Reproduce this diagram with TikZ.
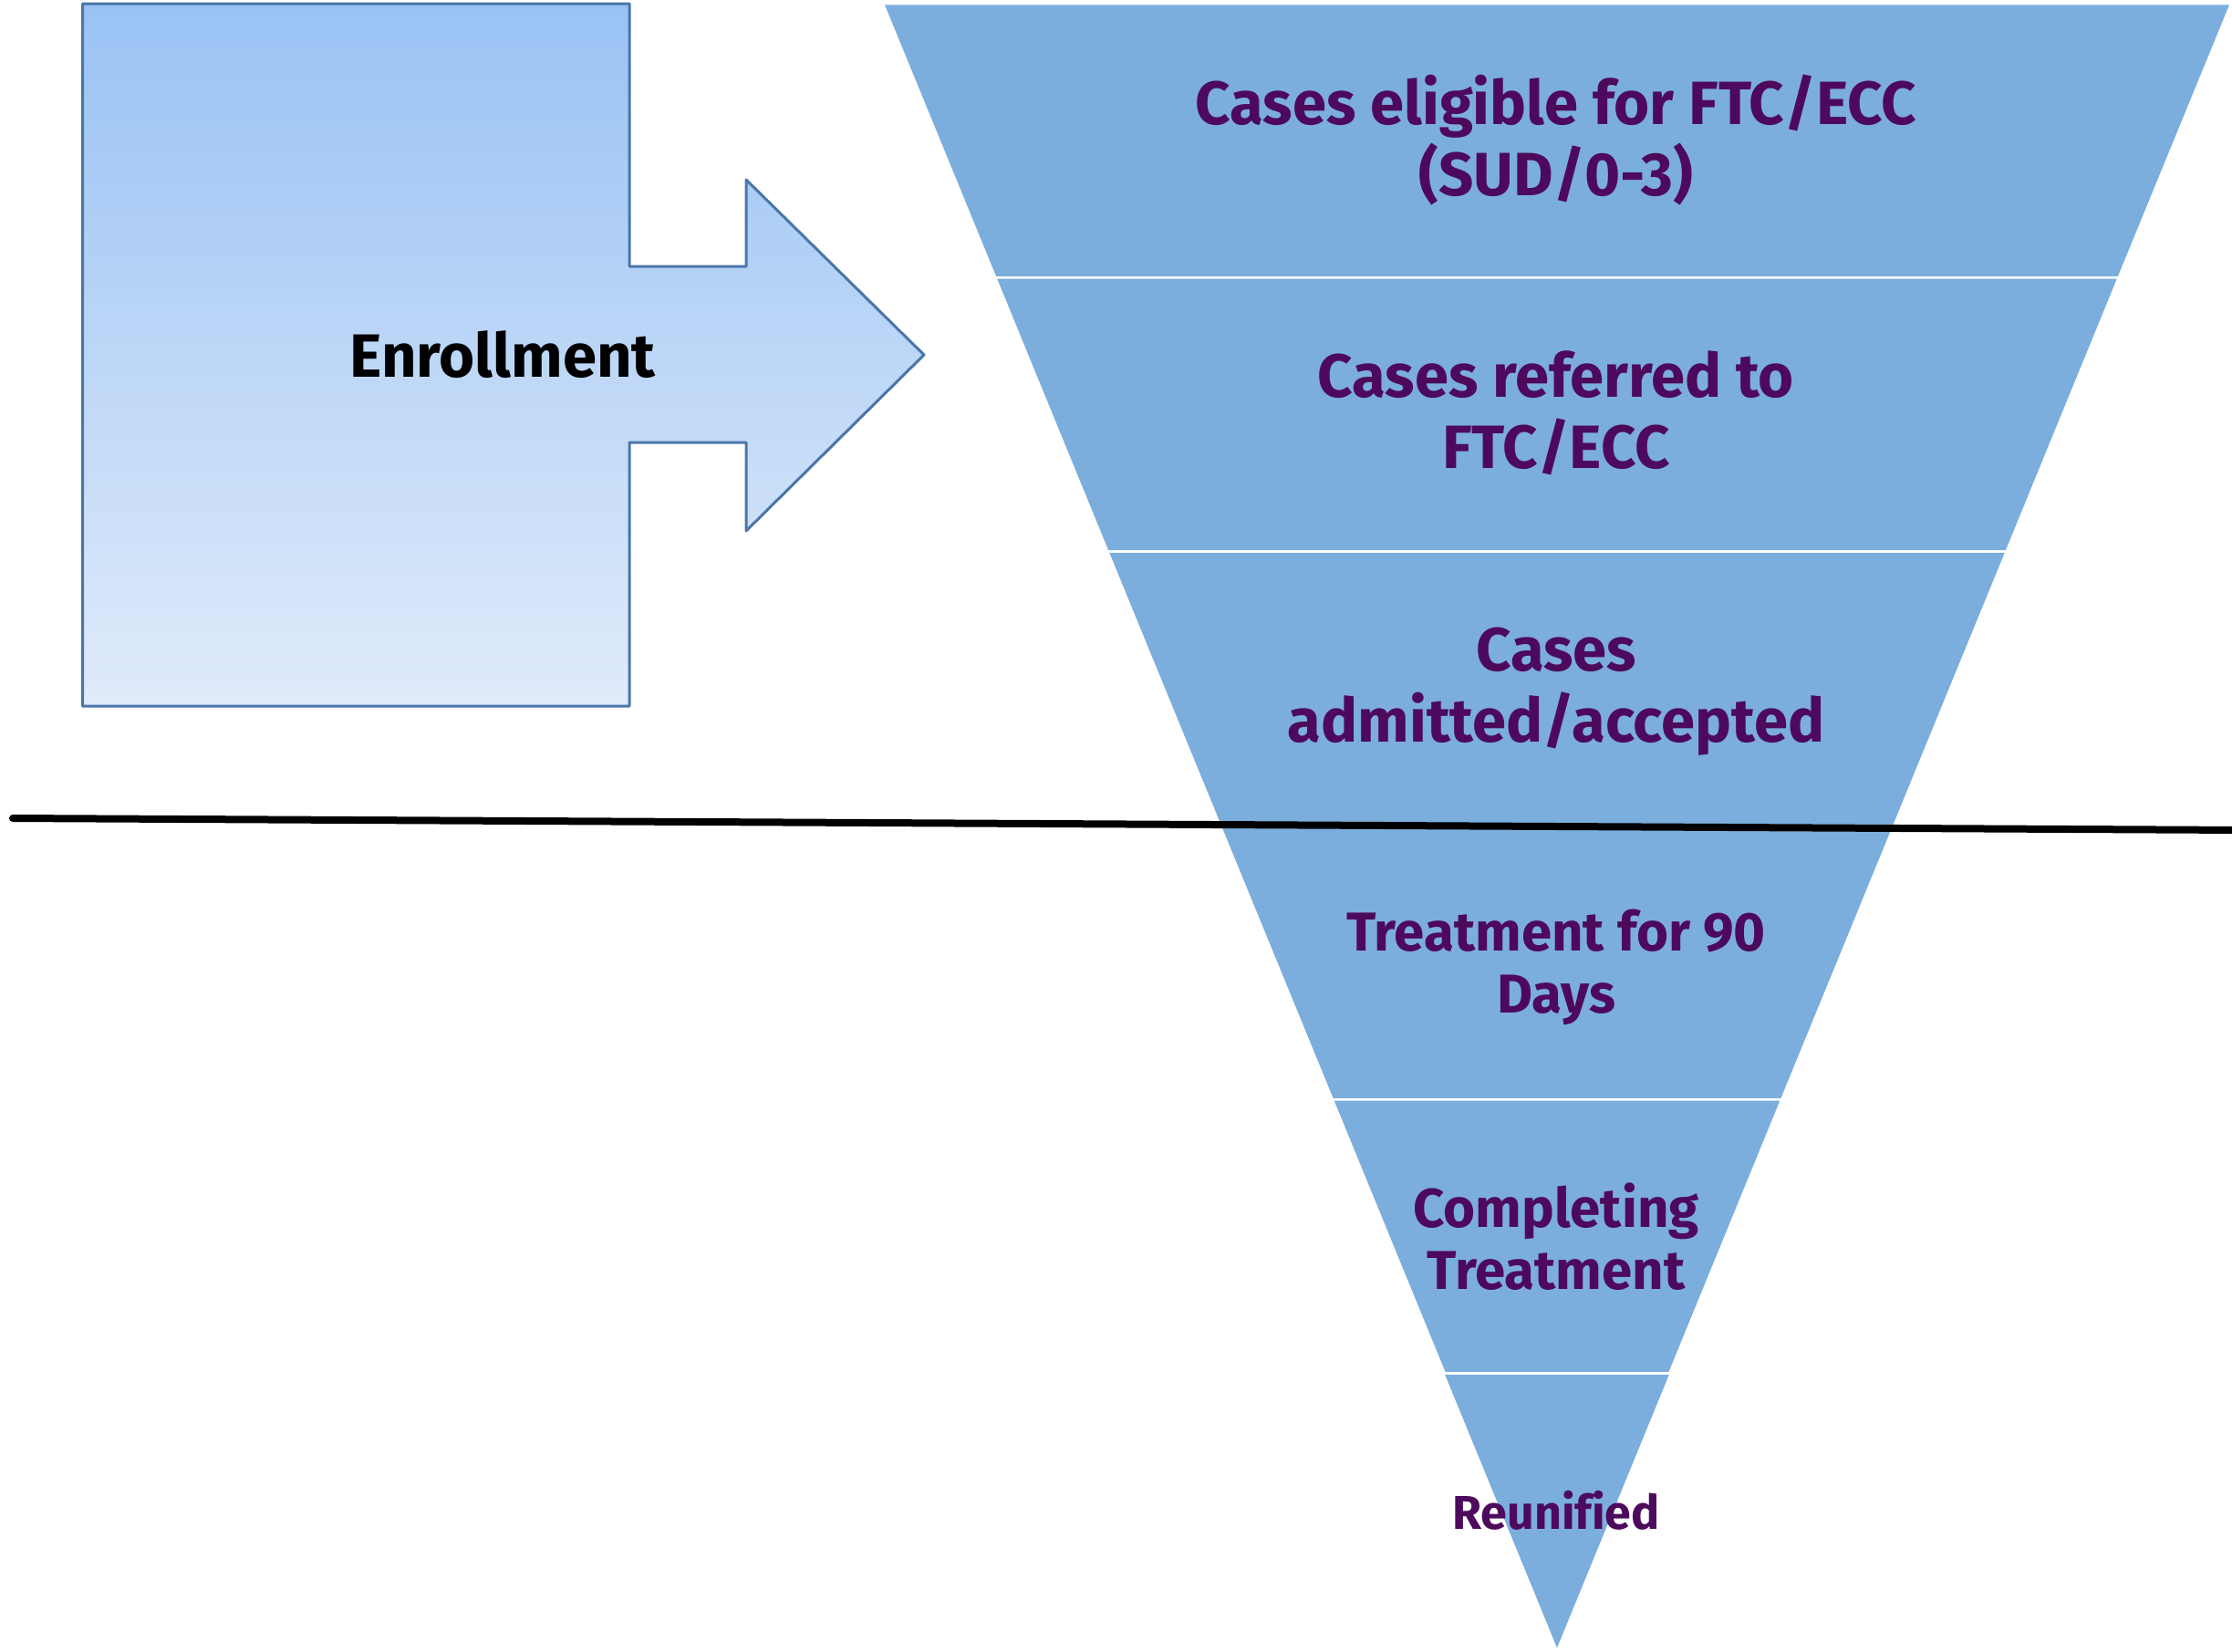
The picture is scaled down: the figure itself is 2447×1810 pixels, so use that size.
\documentclass[tikz,border=0pt]{standalone}
\usepackage{fontspec}
\setmainfont[Ligatures=NoCommon]{Fira Sans}
\definecolor{funnel}{HTML}{7BAEDC}
\definecolor{txtpurple}{HTML}{4D0A5C}
\definecolor{enrtop}{HTML}{99C2F4}
\definecolor{enrbot}{HTML}{E0EBFA}
\definecolor{enredge}{HTML}{4A76A8}
\begin{document}
\begin{tikzpicture}[x=1pt,y=-1pt,
  seg/.style={fill=funnel,draw=white,line width=2.5pt,line join=miter},
  bigtxt/.style={text=txtpurple,font=\fontsize{67}{78}\selectfont\bfseries,align=center,inner sep=0pt},
  midtxt/.style={text=txtpurple,font=\fontsize{60}{68}\selectfont\bfseries,align=center,inner sep=0pt},
  smalltxt/.style={text=txtpurple,font=\fontsize{52}{56}\selectfont\bfseries,align=center,inner sep=0pt},
  enrshape/.style={top color=enrtop,bottom color=enrbot,draw=enredge,line width=3pt,line join=round},
  divider/.style={draw=black,line width=8pt,line cap=round}]
\useasboundingbox (0,0) rectangle (2447,1810);
% funnel corner coordinates
\coordinate (L0) at (968,4);    \coordinate (R0) at (2446,4);
\coordinate (L1) at (1091.2,304.3); \coordinate (R1) at (2322.8,304.3);
\coordinate (L2) at (1214.3,604.7); \coordinate (R2) at (2199.7,604.7);
\coordinate (L3) at (1337.5,905);   \coordinate (R3) at (2076.5,905);
\coordinate (L4) at (1460.7,1205.3);\coordinate (R4) at (1953.3,1205.3);
\coordinate (L5) at (1583.8,1505.7);\coordinate (R5) at (1830.2,1505.7);
\coordinate (T) at (1707,1806);
\fill[funnel] (L0) -- (R0) -- (T) -- cycle;
\draw[seg] (L0) -- (R0) -- (R1) -- (L1) -- cycle;
\draw[seg] (L1) -- (R1) -- (R2) -- (L2) -- cycle;
\draw[seg] (L2) -- (R2) -- (R3) -- (L3) -- cycle;
\draw[seg] (L3) -- (R3) -- (R4) -- (L4) -- cycle;
\draw[seg] (L4) -- (R4) -- (R5) -- (L5) -- cycle;
\fill[funnel] (L5) -- (R5) -- (T) -- cycle;
\draw[white,line width=2.5pt] (L5) -- (R5);
\node[bigtxt] (t1) at (1706,153) {Cases eligible for FTC/ECC\\(SUD/0-3)};
\node[bigtxt] (t2) at (1706,453) {Cases referred to\\FTC/ECC};
\node[bigtxt] (t3) at (1706,758) {Cases\\admitted/accepted};
\node[midtxt] (t4) at (1706,1060) {Treatment for 90\\Days};
\node[midtxt] (t5) at (1706,1356) {Completing\\Treatment};
\node[smalltxt] (t6) at (1706,1656) {Reunified};
% enrollment arrow
\coordinate (E1) at (90.5,4);
\coordinate (E2) at (690,4);
\coordinate (E3) at (690,292);
\coordinate (E4) at (818,292);
\coordinate (E5) at (818,197);
\coordinate (E6) at (1013,389);
\coordinate (E7) at (818,582);
\coordinate (E8) at (818,485);
\coordinate (E9) at (690,485);
\coordinate (E10) at (690,774);
\coordinate (E11) at (90.5,774);
\draw[enrshape] (E1) -- (E2) -- (E3) -- (E4) -- (E5) -- (E6) -- (E7) -- (E8) -- (E9) -- (E10) -- (E11) -- cycle;
\node[text=black,font=\fontsize{67}{72}\selectfont\bfseries,inner sep=0pt] (enr) at (551,389) {Enrollment};
% divider line
\coordinate (D1) at (14,897);
\coordinate (D2) at (2460,910);
\draw[divider] (D1) -- (D2);
\end{tikzpicture}
\end{document}
